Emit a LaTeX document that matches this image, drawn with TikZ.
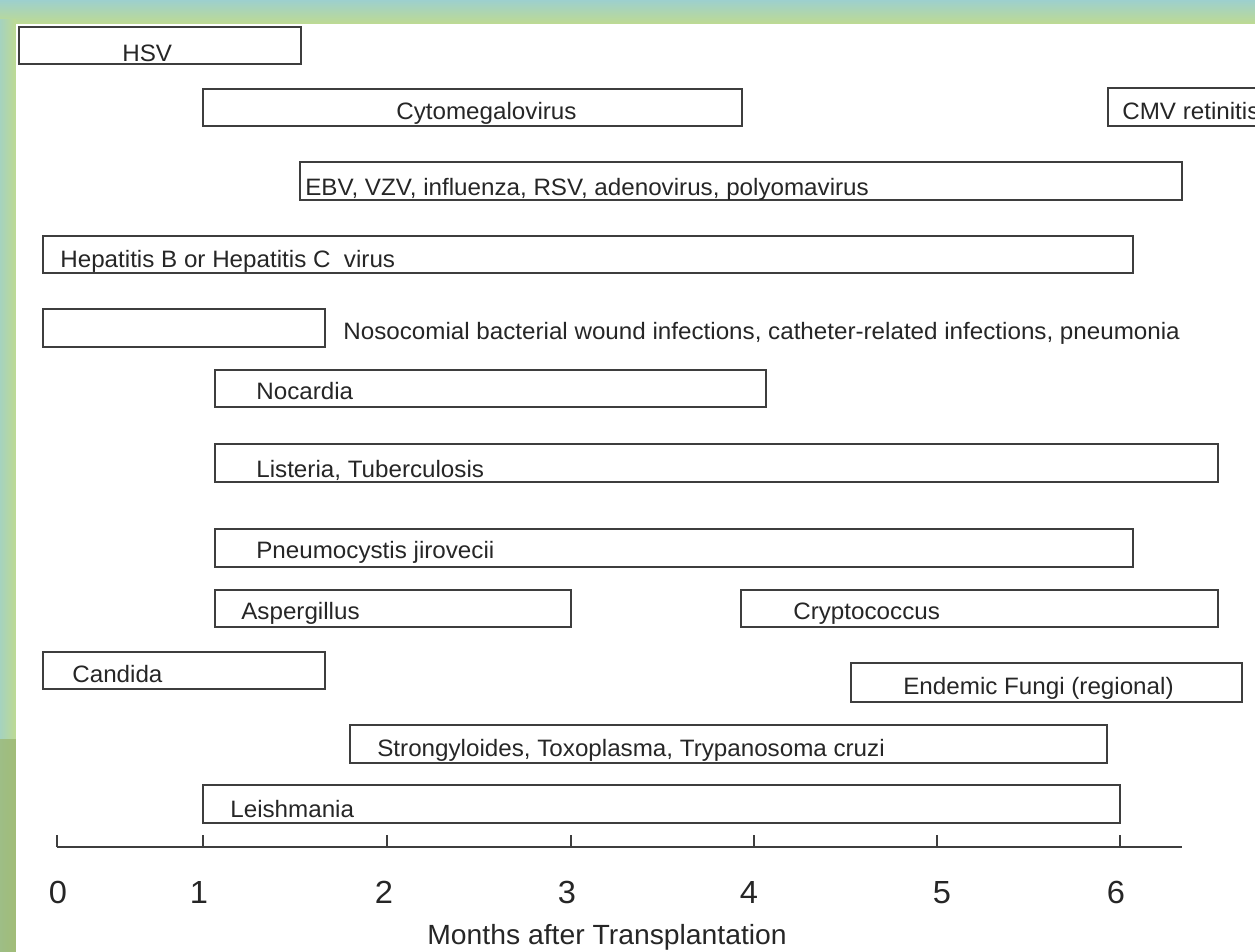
\documentclass[tikz,border=0pt]{standalone}
\usepackage{fontspec}
\setmainfont[FakeStretch=1.02]{Liberation Sans}
\usetikzlibrary{math}
\definecolor{bgteal}{RGB}{157,208,206}
\definecolor{bggreen}{RGB}{190,218,146}
\definecolor{bgolive}{RGB}{158,185,116}
\definecolor{bargray}{RGB}{62,62,62}

\tikzset{
  bar/.style={draw=bargray, line width=1.2pt, fill=white},
  lbl/.style={anchor=base west, inner sep=0pt, text=black!85, font=\fontsize{13.5}{16}\selectfont},
  num/.style={anchor=base, inner sep=0pt, text=black!85, font=\fontsize{18.2}{22}\selectfont},
  axisline/.style={draw=bargray, line width=1.2pt}
}

\begin{document}
\begin{tikzpicture}[x=0.02cm,y=-0.02cm]
\tikzmath{
\ax=847;
\tk=12;
\nb=903;
}
\useasboundingbox (0,0) rectangle (1255,952);
\begin{scope}
\clip (0,0) rectangle (1255,952);

%the frame:
\shade[top color=bgteal, bottom color=bggreen] (0,0) rectangle (1255,24);
\shade[left color=bgteal!75!bggreen, right color=bggreen] (0,20) rectangle (16,740);
\shade[left color=bgolive!80!bgteal, right color=bgolive!90!bggreen] (0,740) rectangle (16,952);
\fill[white] (16,24) rectangle (1255,952);

%viruses:
\draw[bar] (19,27) rectangle (301,64);
\node[lbl] (hsv) at (122,62) {HSV};
\draw[bar] (203,89) rectangle (742,126);
\node[lbl] (cmv) at (396,120) {Cytomegalovirus};
\draw[bar] (1108,88) rectangle (1300,126);
\node[lbl] (cmvr) at (1122,120) {CMV retinitis};
\draw[bar] (300,162) rectangle (1182,200);
\node[lbl] (ebv) at (305,196) {EBV, VZV, influenza, RSV, adenovirus, polyomavirus};
\draw[bar] (43,236) rectangle (1133,273);
\node[lbl] (hep) at (60,268) {Hepatitis B or Hepatitis C\ \ virus};

%bacteria:
\draw[bar] (43,309) rectangle (325,347);
\node[lbl] (noso) at (343,340) {Nosocomial bacterial wound infections, catheter-related infections, pneumonia};
\draw[bar] (215,370) rectangle (766,407);
\node[lbl] (noc) at (256,400) {Nocardia};
\draw[bar] (215,444) rectangle (1218,482);
\node[lbl] (lis) at (256,478) {Listeria, Tuberculosis};

%fungi:
\draw[bar] (215,529) rectangle (1133,567);
\node[lbl] (pcp) at (256,559) {Pneumocystis jirovecii};
\draw[bar] (215,590) rectangle (571,627);
\node[lbl] (asp) at (241,620) {Aspergillus};
\draw[bar] (741,590) rectangle (1218,627);
\node[lbl] (cry) at (793,620) {Cryptococcus};
\draw[bar] (43,652) rectangle (325,689);
\node[lbl] (can) at (72,683) {Candida};
\draw[bar] (851,663) rectangle (1242,702);
\node[lbl] (end) at (903,695) {Endemic Fungi (regional)};

%parasites:
\draw[bar] (350,725) rectangle (1107,763);
\node[lbl] (str) at (377,757) {Strongyloides, Toxoplasma, Trypanosoma cruzi};
\draw[bar] (203,785) rectangle (1120,823);
\node[lbl] (lei) at (230,817) {Leishmania};

%the axis:
\coordinate (a0) at (57,\ax);
\coordinate (a1) at (203,\ax);
\coordinate (a2) at (387,\ax);
\coordinate (a3) at (571,\ax);
\coordinate (a4) at (754,\ax);
\coordinate (a5) at (937,\ax);
\coordinate (a6) at (1120,\ax);
\coordinate (aend) at (1182,\ax);
\draw[axisline] (a0) -- (aend);
\draw[axisline] (a0) -- ++(0,-\tk);
\draw[axisline] (a1) -- ++(0,-\tk);
\draw[axisline] (a2) -- ++(0,-\tk);
\draw[axisline] (a3) -- ++(0,-\tk);
\draw[axisline] (a4) -- ++(0,-\tk);
\draw[axisline] (a5) -- ++(0,-\tk);
\draw[axisline] (a6) -- ++(0,-\tk);
\node[num] (m0) at (58,\nb) {0};
\node[num] (m1) at (199,\nb) {1};
\node[num] (m2) at (384,\nb) {2};
\node[num] (m3) at (567,\nb) {3};
\node[num] (m4) at (749,\nb) {4};
\node[num] (m5) at (942,\nb) {5};
\node[num] (m6) at (1116,\nb) {6};
\node[lbl, font=\fontsize{15.8}{18}\selectfont] (months) at (427,944) {Months after Transplantation};
\end{scope}
\end{tikzpicture}
\end{document}
